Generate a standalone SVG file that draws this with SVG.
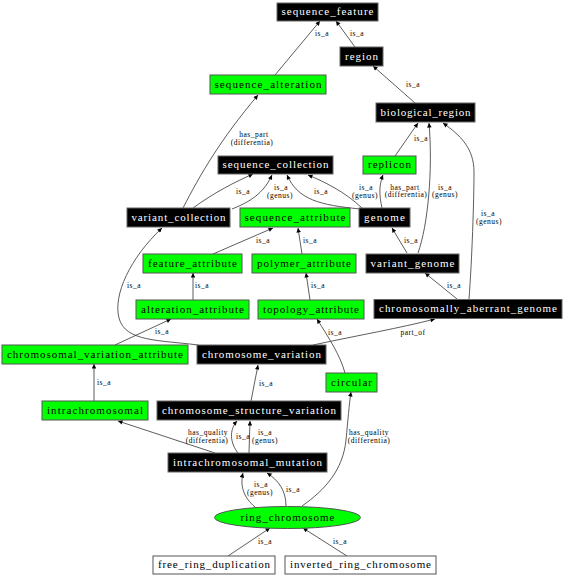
<svg xmlns="http://www.w3.org/2000/svg" width="565" height="576" viewBox="0 0 565 576">
<style>
.bk{fill:#000;stroke:#666;stroke-width:1}
.gr{fill:#00ff00;stroke:#555;stroke-width:1}
.wh{fill:#fff;stroke:#555;stroke-width:1}
.nt{font-family:"Liberation Serif","Times New Roman",serif;font-size:11px;text-anchor:middle}
.tw{fill:#fff}
.tk{fill:#000}
.e path{fill:none;stroke:#333;stroke-width:0.8;marker-end:url(#ah)}
.el{font-family:"Liberation Serif","Times New Roman",serif;font-size:7.5px;text-anchor:middle;fill:#000;letter-spacing:0.5px}
</style>
<defs>
<marker id="ah" viewBox="0 0 10 10" refX="10" refY="5" markerWidth="6" markerHeight="4.5" markerUnits="userSpaceOnUse" orient="auto">
<path d="M0,0 L10,5 L0,10 z" fill="#000"/>
</marker>
</defs>
<rect width="565" height="576" fill="#fff"/>
<g id="edges" class="e">
<path d="M275,75 L320,21"/>
<path d="M355,47 L336,21"/>
<path d="M415,103 L373,66"/>
<path d="M183,208 C200,175 220,140 258,95"/>
<path d="M193,208 C215,192 235,182 253,174"/>
<path d="M232,209 C255,200 265,190 272,175"/>
<path d="M360,209 C320,205 298,200 287,175"/>
<path d="M362,208 C345,192 325,182 308,175"/>
<path d="M395,156 L418,123"/>
<path d="M382,208 C379,195 379,185 383,175"/>
<path d="M407,253 L392,228"/>
<path d="M418,253 C428,225 433,170 429,123"/>
<path d="M457,299 L425,273"/>
<path d="M469,299 C472,260 474,200 474,172 C474,148 460,135 443,123"/>
<path d="M213,254 L273,228"/>
<path d="M302,254 L298,228"/>
<path d="M193,300 L193,273"/>
<path d="M310,300 L306,273"/>
<path d="M115,345 L171,319"/>
<path d="M198,345 C160,340 125,342 119,318 C113,295 130,258 162,228"/>
<path d="M313,345 C360,335 400,328 435,319"/>
<path d="M345,373 C340,355 330,340 317,319"/>
<path d="M251,401 L258,365"/>
<path d="M94,401 L94,364"/>
<path d="M215,453 L118,421"/>
<path d="M238,453 C230,443 229,430 237,421"/>
<path d="M249,453 L250,421"/>
<path d="M255,507 C243,497 240,485 243,473"/>
<path d="M286,506 C286,490 278,480 267,473"/>
<path d="M302,506 C325,490 343,470 346,440 C348,420 349,405 351,392"/>
<path d="M228,556 L270,528"/>
<path d="M347,556 L303,528"/>
</g>
<g id="edge-labels">
<text class="el" x="322" y="36">is_a</text>
<text class="el" x="357" y="36">is_a</text>
<text class="el" x="413" y="87">is_a</text>
<text class="el" y="137"><tspan x="254">has_part</tspan><tspan x="252" dy="7.5">(differentia)</tspan></text>
<text class="el" x="243" y="193.5">is_a</text>
<text class="el" y="189.5"><tspan x="281">is_a</tspan><tspan x="280" dy="8">(genus)</tspan></text>
<text class="el" x="321" y="194">is_a</text>
<text class="el" y="189.5"><tspan x="366">is_a</tspan><tspan x="365" dy="8">(genus)</tspan></text>
<text class="el" x="421" y="141">is_a</text>
<text class="el" y="189.5"><tspan x="405">has_part</tspan><tspan x="406" dy="7.5">(differentia)</tspan></text>
<text class="el" x="411" y="243">is_a</text>
<text class="el" y="189.5"><tspan x="445">is_a</tspan><tspan x="445" dy="7.5">(genus)</tspan></text>
<text class="el" x="454" y="288">is_a</text>
<text class="el" y="215.5"><tspan x="488">is_a</tspan><tspan x="489" dy="8">(genus)</tspan></text>
<text class="el" x="263" y="243">is_a</text>
<text class="el" x="310" y="243">is_a</text>
<text class="el" x="202" y="288">is_a</text>
<text class="el" x="318" y="288">is_a</text>
<text class="el" x="162" y="334">is_a</text>
<text class="el" x="134" y="288">is_a</text>
<text class="el" x="413" y="334.5">part_of</text>
<text class="el" x="335" y="334.5">is_a</text>
<text class="el" x="266" y="386">is_a</text>
<text class="el" x="104" y="385">is_a</text>
<text class="el" y="435"><tspan x="208">has_quality</tspan><tspan x="207" dy="7.5">(differentia)</tspan></text>
<text class="el" x="243" y="439">is_a</text>
<text class="el" y="434.5"><tspan x="265">is_a</tspan><tspan x="265" dy="8">(genus)</tspan></text>
<text class="el" y="487"><tspan x="261">is_a</tspan><tspan x="260" dy="7.5">(genus)</tspan></text>
<text class="el" x="293" y="491.5">is_a</text>
<text class="el" y="435"><tspan x="369">has_quality</tspan><tspan x="369" dy="7.5">(differentia)</tspan></text>
<text class="el" x="265" y="544">is_a</text>
<text class="el" x="340" y="544">is_a</text>
</g>
<g id="sequence_feature"><rect class="bk" x="277" y="3" width="101" height="18"/><text class="nt tw" x="327.5" y="15" textLength="92" lengthAdjust="spacing">sequence_feature</text></g>
<g id="region"><rect class="bk" x="340" y="47" width="43" height="19"/><text class="nt tw" x="361.5" y="59.5" textLength="33" lengthAdjust="spacing">region</text></g>
<g id="sequence_alteration"><rect class="gr" x="210" y="75" width="116" height="19"/><text class="nt tk" x="268" y="87.5" textLength="107" lengthAdjust="spacing">sequence_alteration</text></g>
<g id="biological_region"><rect class="bk" x="376" y="103" width="99" height="19"/><text class="nt tw" x="425.5" y="115.5" textLength="90" lengthAdjust="spacing">biological_region</text></g>
<g id="sequence_collection"><rect class="bk" x="218" y="156" width="115" height="18"/><text class="nt tw" x="275.5" y="168" textLength="106" lengthAdjust="spacing">sequence_collection</text></g>
<g id="replicon"><rect class="gr" x="363" y="156" width="53" height="18"/><text class="nt tk" x="389.5" y="168" textLength="43" lengthAdjust="spacing">replicon</text></g>
<g id="variant_collection"><rect class="bk" x="127" y="208" width="103" height="19"/><text class="nt tw" x="178.5" y="220.5" textLength="94" lengthAdjust="spacing">variant_collection</text></g>
<g id="sequence_attribute"><rect class="gr" x="240" y="208" width="110" height="19"/><text class="nt tk" x="295" y="220.5" textLength="101" lengthAdjust="spacing">sequence_attribute</text></g>
<g id="genome"><rect class="bk" x="359" y="208" width="51" height="19"/><text class="nt tw" x="384.5" y="220.5" textLength="41" lengthAdjust="spacing">genome</text></g>
<g id="feature_attribute"><rect class="gr" x="143" y="254" width="99" height="19"/><text class="nt tk" x="192.5" y="266.5" textLength="89" lengthAdjust="spacing">feature_attribute</text></g>
<g id="polymer_attribute"><rect class="gr" x="252" y="254" width="104" height="19"/><text class="nt tk" x="304" y="266.5" textLength="94" lengthAdjust="spacing">polymer_attribute</text></g>
<g id="variant_genome"><rect class="bk" x="366" y="254" width="93" height="19"/><text class="nt tw" x="412.5" y="266.5" textLength="84" lengthAdjust="spacing">variant_genome</text></g>
<g id="alteration_attribute"><rect class="gr" x="136" y="300" width="113" height="19"/><text class="nt tk" x="192.5" y="312.5" textLength="103" lengthAdjust="spacing">alteration_attribute</text></g>
<g id="topology_attribute"><rect class="gr" x="258" y="300" width="106" height="19"/><text class="nt tk" x="311" y="312.5" textLength="96" lengthAdjust="spacing">topology_attribute</text></g>
<g id="chromosomally_aberrant_genome"><rect class="bk" x="374" y="299.5" width="188" height="19"/><text class="nt tw" x="468" y="312" textLength="178" lengthAdjust="spacing">chromosomally_aberrant_genome</text></g>
<g id="chromosomal_variation_attribute"><rect class="gr" x="2" y="345" width="186" height="19"/><text class="nt tk" x="95" y="357.5" textLength="176" lengthAdjust="spacing">chromosomal_variation_attribute</text></g>
<g id="chromosome_variation"><rect class="bk" x="197" y="345" width="129" height="19"/><text class="nt tw" x="261.5" y="357.5" textLength="119" lengthAdjust="spacing">chromosome_variation</text></g>
<g id="circular"><rect class="gr" x="326" y="373" width="51" height="19"/><text class="nt tk" x="351.5" y="385.5" textLength="41" lengthAdjust="spacing">circular</text></g>
<g id="intrachromosomal"><rect class="gr" x="42" y="401" width="106" height="19"/><text class="nt tk" x="95" y="413.5" textLength="96" lengthAdjust="spacing">intrachromosomal</text></g>
<g id="chromosome_structure_variation"><rect class="bk" x="157" y="401" width="184" height="19"/><text class="nt tw" x="249" y="413.5" textLength="174" lengthAdjust="spacing">chromosome_structure_variation</text></g>
<g id="intrachromosomal_mutation"><rect class="bk" x="168" y="453" width="159" height="19"/><text class="nt tw" x="247.5" y="465.5" textLength="149" lengthAdjust="spacing">intrachromosomal_mutation</text></g>
<g id="ring_chromosome"><ellipse class="gr" cx="287.5" cy="517.5" rx="73" ry="11"/><text class="nt tk" x="287.5" y="521" textLength="94" lengthAdjust="spacing">ring_chromosome</text></g>
<g id="free_ring_duplication"><rect class="wh" x="153" y="556" width="122" height="18"/><text class="nt tk" x="214" y="568" textLength="112" lengthAdjust="spacing">free_ring_duplication</text></g>
<g id="inverted_ring_chromosome"><rect class="wh" x="285" y="556" width="151" height="18"/><text class="nt tk" x="360.5" y="568" textLength="141" lengthAdjust="spacing">inverted_ring_chromosome</text></g>
</svg>
